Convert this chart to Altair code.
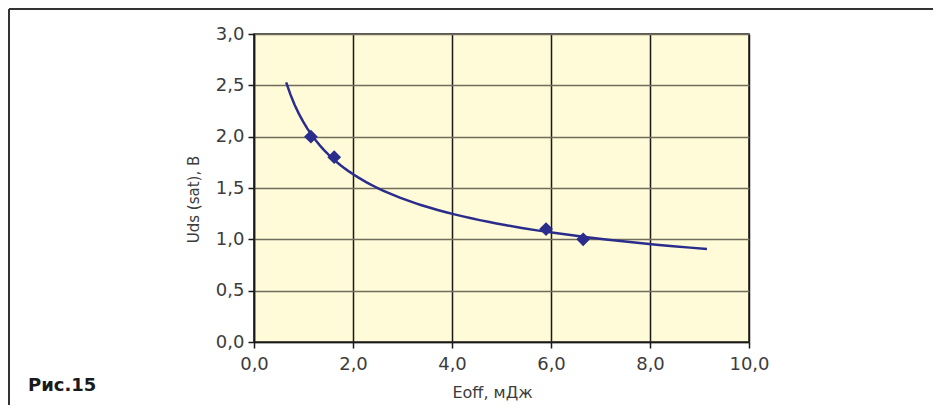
import altair as alt
import pandas as pd

# Data
e_off = [1.15, 1.62, 5.9, 6.65]          # Eoff, мДж
uds_sat = [2.0, 1.8, 1.1, 1.0]           # Uds (sat), В
trend_extent = [0.65, 9.15]              # extent of the power trendline
x_ticks = [0, 2, 4, 6, 8, 10]
y_ticks = [0, 0.5, 1.0, 1.5, 2.0, 2.5, 3.0]
x_title = "Eoff, мДж"
y_title = "Uds (sat), В"
fig_label = "Рис.15"

df = pd.DataFrame({"x": e_off, "y": uds_sat})
one = pd.DataFrame({"k": [0]})

LINE = "#2a2d8c"
label_expr = "replace(format(datum.value, '.1f'), '.', ',')"

x_enc = alt.X(
    "x:Q",
    scale=alt.Scale(domain=[0, 10], nice=False, zero=False),
    axis=alt.Axis(
        values=x_ticks, labelExpr=label_expr, title=x_title,
        gridColor="#1a1a1a", gridWidth=1.5,
        titleX=238, titleY=55, titleBaseline="alphabetic",
        labelPadding=7, labelFlush=False,
    ),
)
y_enc = alt.Y(
    "y:Q",
    scale=alt.Scale(domain=[0, 3], nice=False, zero=False),
    axis=alt.Axis(
        values=y_ticks, labelExpr=label_expr, title=y_title,
        gridColor="#6f6c5c", gridWidth=1.5,
        titleX=-61, titleY=165, titleBaseline="middle", titleFontSize=15,
        labelPadding=4, labelFlush=False,
    ),
)

trend = (
    alt.Chart(df)
    .transform_regression("x", "y", method="pow", extent=trend_extent)
    .mark_line(color=LINE, strokeWidth=2.5)
    .encode(x=x_enc, y=y_enc)
)

points = (
    alt.Chart(df)
    .mark_point(shape="diamond", filled=True, color=LINE, size=190, opacity=1)
    .encode(x=alt.X("x:Q"), y=alt.Y("y:Q"))
)

frame_top = alt.Chart(one).mark_rule(color="#333333", strokeWidth=2).encode(
    x=alt.value(-245), x2=alt.value(700), y=alt.value(-25)
)
frame_left = alt.Chart(one).mark_rule(color="#333333", strokeWidth=2).encode(
    x=alt.value(-245), y=alt.value(-25), y2=alt.value(400)
)
fig_text = alt.Chart(one).mark_text(
    font="DejaVu Sans", fontWeight="bold", fontSize=18, align="left",
    baseline="alphabetic", color="#1a1a1a"
).encode(x=alt.value(-226), y=alt.value(357), text=alt.value(fig_label))

chart = (
    alt.layer(trend, points, frame_top, frame_left, fig_text)
    .properties(
        width=495, height=308,
        autosize=alt.AutoSizeParams(type="none"),
        padding={"left": 246, "top": 26, "right": 184, "bottom": 63},
        background="white",
    )
    .configure_view(fill="#fffad7", stroke="#1a1a1a", strokeWidth=1.5)
    .configure_axis(
        labelFont="DejaVu Sans", labelFontSize=18, labelColor="#3c3c3c",
        titleFont="DejaVu Sans", titleFontSize=16, titleFontWeight="normal",
        titleColor="#3c3c3c",
        domainColor="#1a1a1a", domainWidth=1.5,
        tickColor="#1a1a1a", tickSize=6, tickWidth=1.5,
        grid=True,
    )
)

chart.save("out.html", embed_options={"renderer": "svg", "actions": False})
